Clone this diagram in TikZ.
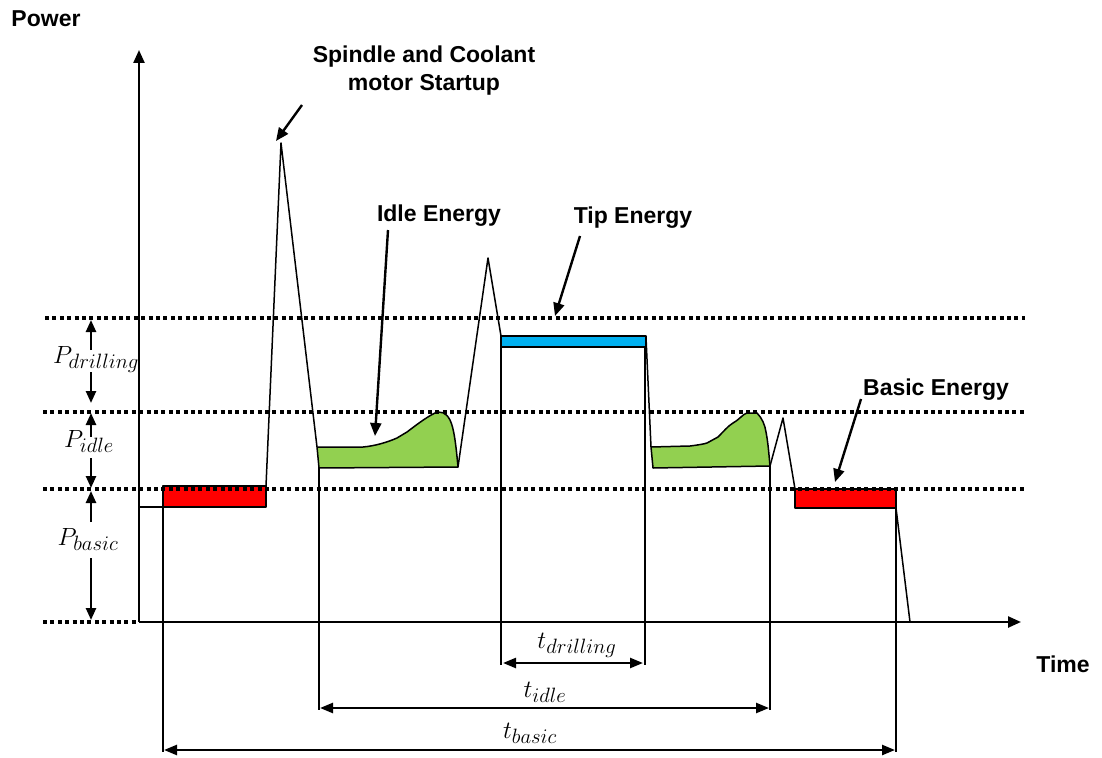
\documentclass[tikz,border=0pt]{standalone}
\usepackage{fontspec}
\setmainfont{Liberation Sans}
\usetikzlibrary{arrows.meta}

\definecolor{basicred}{HTML}{FF0000}
\definecolor{tipblue}{HTML}{00B0F0}
\definecolor{idlegreen}{HTML}{92D050}

\begin{document}
\begin{tikzpicture}[x=1pt, y=-1pt,
  lbl/.style={font=\fontsize{23}{28}\selectfont\bfseries, align=center, inner sep=0pt},
  mlbl/.style={font=\fontsize{29}{33}\selectfont, inner sep=0pt},
  curve/.style={line width=1.5pt, line join=round},
  energy/.style={line width=1.5pt, line join=round, draw=black},
  axisline/.style={line width=2.4pt, -{Triangle[length=13pt,width=11pt]}},
  callout/.style={line width=2.4pt, -{Triangle[length=13pt,width=11pt]}},
  dimarrow/.style={line width=2.4pt, {Triangle[length=13pt,width=10pt]}-{Triangle[length=13pt,width=10pt]}},
  levelarrow/.style={line width=2.4pt, -{Triangle[length=12pt,width=10pt]}},
  guide/.style={line width=1.5pt},
  levelline/.style={line width=4pt, dash pattern=on 4pt off 3.4pt}
]
\useasboundingbox (0,0) rectangle (1102,757);

% ---------- key points ----------
\coordinate (origin) at (139,622);
\coordinate (ytip)   at (139,50);
\coordinate (xtip)   at (1021,622);

% ---------- energy blocks ----------
\fill[basicred] (163,486) rectangle (266,507);
\draw[energy] (163,486) rectangle (266,507);
\fill[basicred] (795,489) rectangle (896,508);
\draw[energy] (795,489) rectangle (896,508);
\draw[energy, fill=tipblue] (501,336) rectangle (646,347);

\draw[energy, fill=idlegreen]
  (317,447) -- (363,447) .. controls (375,446) and (388,442) .. (397,438)
  -- (407,432) .. controls (415,426) and (425,418) .. (435,413)
  .. controls (440,411) and (446,412) .. (450,420)
  .. controls (454,428) and (456,445) .. (458,467) -- (319,468) -- cycle;
\draw[energy, fill=idlegreen]
  (651,447) -- (690,446) .. controls (698,445) and (704,444) .. (707,443)
  -- (718,437) .. controls (724,431) and (728,426) .. (733,423)
  .. controls (740,419) and (743,414) .. (747,413) -- (757,413)
  .. controls (762,418) and (765,425) .. (766,432)
  .. controls (768,442) and (769,455) .. (770,466) -- (653,468) -- cycle;

% ---------- power profile ----------
\draw[curve] (origin |- 0,507) -- (163,507);
\draw[curve] (266,486) -- (281,143) -- (317,447);
\draw[curve] (458,467) -- (488,258) -- (501,336);
\draw[curve] (646,337) -- (651,447);
\draw[curve] (770,466) -- (783,418) -- (795,489);
\draw[curve] (896,508) -- (910,622);

% ---------- power levels ----------
\draw[levelline] (45,318) -- (1025,318);
\draw[levelline] (43,412) -- (1025,412);
\draw[levelline] (43,489) -- (1025,489);
\draw[levelline] (43,622) -- (136,622);

% ---------- axes ----------
\draw[axisline] (origin) -- (ytip);
\draw[axisline] (origin) -- (xtip);
\node[lbl, anchor=base] (power) at (46,27) {Power};
\node[lbl, anchor=base] (time) at (1063,672) {Time};

% ---------- level annotations ----------
\node[mlbl, anchor=base] (pdrill) at (96,363) {$P_{drilling}$};
\node[mlbl, anchor=base] (pidle)  at (89,447) {$P_{idle}$};
\node[mlbl, anchor=base] (pbasic) at (88,545) {$P_{basic}$};
\draw[levelarrow] (91,350) -- (91,320);
\draw[levelarrow] (91,372) -- (91,403);
\draw[levelarrow] (91,437) -- (91,413);
\draw[levelarrow] (91,458) -- (91,488);
\draw[levelarrow] (91,522) -- (91,491);
\draw[levelarrow] (91,558) -- (91,620);

% ---------- time guides ----------
\draw[guide] (163,507) -- (163,752);
\draw[guide] (319,468) -- (319,710);
\draw[guide] (501,347) -- (501,665);
\draw[guide] (645,347) -- (645,665);
\draw[guide] (770,466) -- (770,710);
\draw[guide] (896,508) -- (896,752);

\coordinate (td1) at (503,663);
\coordinate (td2) at (643,663);
\coordinate (ti1) at (320,708);
\coordinate (ti2) at (769,708);
\coordinate (tb1) at (164,750);
\coordinate (tb2) at (895,750);
\draw[dimarrow] (td1) -- (td2);
\draw[dimarrow] (ti1) -- (ti2);
\draw[dimarrow] (tb1) -- (tb2);
\node[mlbl, anchor=base] (tdrill) at (577,648) {$t_{drilling}$};
\node[mlbl, anchor=base] (tidle)  at (545,697) {$t_{idle}$};
\node[mlbl, anchor=base] (tbasic) at (530,738) {$t_{basic}$};

% ---------- callouts ----------
\node[lbl, anchor=base] (spindle) at (424,91) {Spindle and Coolant\\motor Startup};
\node[lbl, anchor=base] (idleE) at (439,221) {Idle Energy};
\node[lbl, anchor=base] (tipE)  at (633,223) {Tip Energy};
\node[lbl, anchor=base] (basicE) at (936,395) {Basic Energy};

\coordinate (spindleTail) at (302,105);
\coordinate (spindleTip)  at (276,141);
\coordinate (idleTail) at (388,230);
\coordinate (idleTip)  at (375,436);
\coordinate (tipTail) at (580,236);
\coordinate (tipTip)  at (555,316);
\coordinate (basicTail) at (861,399);
\coordinate (basicTip)  at (835,482);
\draw[callout] (spindleTail) -- (spindleTip);
\draw[callout] (idleTail) -- (idleTip);
\draw[callout] (tipTail) -- (tipTip);
\draw[callout] (basicTail) -- (basicTip);
\end{tikzpicture}
\end{document}
